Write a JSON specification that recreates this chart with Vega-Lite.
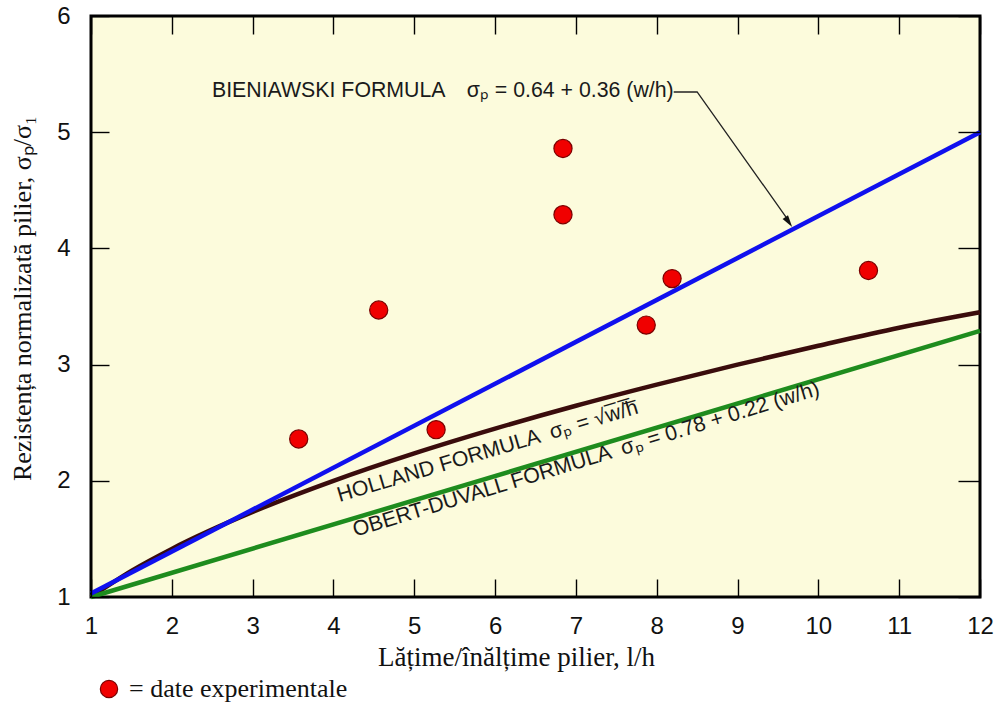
{
  "$schema": "https://vega.github.io/schema/vega-lite/v6.json",
  "width": 889,
  "height": 581,
  "autosize": "none",
  "padding": {"left": 91, "top": 16, "right": 19, "bottom": 109},
  "background": "white",
  "datasets": {
    "curves": [
      {"series": "Holland", "x": 1, "y": 1.0},
      {"series": "Holland", "x": 1.5, "y": 1.225},
      {"series": "Holland", "x": 2, "y": 1.414},
      {"series": "Holland", "x": 3, "y": 1.732},
      {"series": "Holland", "x": 4, "y": 2.0},
      {"series": "Holland", "x": 5, "y": 2.236},
      {"series": "Holland", "x": 6, "y": 2.449},
      {"series": "Holland", "x": 7, "y": 2.646},
      {"series": "Holland", "x": 8, "y": 2.828},
      {"series": "Holland", "x": 9, "y": 3.0},
      {"series": "Holland", "x": 10, "y": 3.162},
      {"series": "Holland", "x": 11, "y": 3.317},
      {"series": "Holland", "x": 12, "y": 3.45},
      {"series": "Obert-Duvall", "x": 1, "y": 1.0},
      {"series": "Obert-Duvall", "x": 12, "y": 3.29},
      {"series": "Bieniawski", "x": 1, "y": 1.03},
      {"series": "Bieniawski", "x": 12, "y": 5.0}
    ],
    "experiments": [
      {"x": 3.57, "y": 2.36, "label": "= date experimentale"},
      {"x": 4.56, "y": 3.47, "label": "= date experimentale"},
      {"x": 5.27, "y": 2.44, "label": "= date experimentale"},
      {"x": 6.84, "y": 4.86, "label": "= date experimentale"},
      {"x": 6.84, "y": 4.29, "label": "= date experimentale"},
      {"x": 7.87, "y": 3.34, "label": "= date experimentale"},
      {"x": 8.19, "y": 3.74, "label": "= date experimentale"},
      {"x": 10.62, "y": 3.81, "label": "= date experimentale"}
    ],
    "leader": [
      {"order": 1, "x": 8.21, "y": 5.346},
      {"order": 2, "x": 8.5, "y": 5.346},
      {"order": 3, "x": 9.6, "y": 4.27}
    ],
    "tip": [{"x": 9.676, "y": 4.184}]
  },
  "layer": [
    {
      "data": {"name": "curves"},
      "mark": {"type": "line", "strokeWidth": 4.5, "interpolate": "monotone"},
      "encoding": {
        "x": {
          "field": "x", "type": "quantitative",
          "scale": {"domain": [1, 12], "nice": false, "zero": false},
          "axis": {
            "tickCount": 11, "format": "d",
            "title": "Lățime/înălțime pilier, l/h",
            "titleX": 425, "titleY": 86, "titleBaseline": "alphabetic", "titleAlign": "center",
            "titleFont": "Liberation Serif", "titleFontSize": 27, "titleFontWeight": "normal", "titleColor": "#111",
            "offset": -18, "tickSize": 18, "labelPadding": 17, "labelFlush": false, "zindex": 1
          }
        },
        "y": {
          "field": "y", "type": "quantitative",
          "scale": {"domain": [1, 6], "nice": false, "zero": false},
          "axis": {
            "tickCount": 5, "format": "d",
            "title": "Rezistența normalizată pilier, σₚ/σ₁",
            "titleX": -87, "titleY": 282, "titleAlign": "center", "titleBaseline": "middle", "titleAngle": 270,
            "titleFont": "Liberation Serif", "titleFontSize": 26, "titleFontWeight": "normal", "titleColor": "#111",
            "offset": -18, "tickSize": 18, "labelPadding": 21, "labelFlush": false, "zindex": 1
          }
        },
        "color": {
          "field": "series", "type": "nominal",
          "scale": {"domain": ["Holland", "Obert-Duvall", "Bieniawski"], "range": ["#3a0c0c", "#1e8c1e", "#1010ee"]},
          "legend": null
        },
        "order": {"field": "x", "type": "quantitative"}
      }
    },
    {
      "data": {"name": "leader"},
      "mark": {"type": "line", "strokeWidth": 1.3, "color": "#222"},
      "encoding": {
        "x": {"field": "x", "type": "quantitative", "axis": null},
        "y": {"field": "y", "type": "quantitative", "axis": null},
        "order": {"field": "order", "type": "quantitative"}
      }
    },
    {
      "data": {"name": "tip"},
      "mark": {"type": "point", "shape": "M0,0L-0.55,-2L0.55,-2Z", "filled": true, "color": "#111", "size": 144, "angle": 325, "opacity": 1},
      "encoding": {
        "x": {"field": "x", "type": "quantitative", "axis": null},
        "y": {"field": "y", "type": "quantitative", "axis": null}
      }
    },
    {
      "data": {"values": [{"x": 2.497, "y": 5.303, "text": "BIENIAWSKI FORMULA\u2003σₚ = 0.64 + 0.36 (w/h)"}]},
      "mark": {"type": "text", "align": "left", "baseline": "alphabetic", "font": "Liberation Sans", "fontSize": 21.3, "color": "#1a1a1a"},
      "encoding": {
        "x": {"field": "x", "type": "quantitative", "axis": null},
        "y": {"field": "y", "type": "quantitative", "axis": null},
        "text": {"field": "text"}
      }
    },
    {
      "data": {"values": [{"x": 5.93, "y": 2.2, "text": "HOLLAND FORMULA\u2002σₚ = √w̅/̅h̅"}]},
      "mark": {"type": "text", "align": "center", "baseline": "alphabetic", "font": "Liberation Sans", "fontSize": 21.3, "color": "#1a1a1a", "angle": 343.5},
      "encoding": {
        "x": {"field": "x", "type": "quantitative", "axis": null},
        "y": {"field": "y", "type": "quantitative", "axis": null},
        "text": {"field": "text"}
      }
    },
    {
      "data": {"values": [{"x": 7.15, "y": 2.13, "text": "OBERT-DUVALL FORMULA\u2002σₚ = 0.78 + 0.22 (w/h)"}]},
      "mark": {"type": "text", "align": "center", "baseline": "alphabetic", "font": "Liberation Sans", "fontSize": 21.3, "color": "#1a1a1a", "angle": 343},
      "encoding": {
        "x": {"field": "x", "type": "quantitative", "axis": null},
        "y": {"field": "y", "type": "quantitative", "axis": null},
        "text": {"field": "text"}
      }
    },
    {
      "data": {"name": "experiments"},
      "mark": {"type": "point", "filled": true, "size": 330, "stroke": "#7a0000", "strokeWidth": 1.2, "opacity": 1},
      "encoding": {
        "x": {"field": "x", "type": "quantitative", "axis": {"orient": "top", "tickCount": 11, "labels": false, "title": null, "offset": -18, "tickSize": 18, "zindex": 1}},
        "y": {"field": "y", "type": "quantitative", "axis": {"orient": "right", "tickCount": 5, "labels": false, "title": null, "offset": -22, "tickSize": 22, "zindex": 1}},
        "fill": {
          "field": "label", "type": "nominal",
          "scale": {"domain": ["= date experimentale"], "range": ["#f00000"]},
          "legend": {
            "orient": "none", "legendX": 5, "legendY": 660, "title": null, "padding": 0,
            "labelFont": "Liberation Serif", "labelFontSize": 26, "labelColor": "#111", "labelOffset": 7, "labelLimit": 500,
            "symbolSize": 300, "symbolType": "circle", "symbolStrokeColor": "#7a0000", "symbolStrokeWidth": 1.2, "symbolFillColor": "#f00000", "symbolOpacity": 1
          }
        }
      }
    }
  ],
  "resolve": {"axis": {"x": "independent", "y": "independent"}},
  "config": {
    "view": {"stroke": "black", "strokeWidth": 3, "fill": "#fcfbdc"},
    "axis": {
      "domain": false,
      "grid": false,
      "ticks": true,
      "tickWidth": 1.4,
      "tickColor": "#000000",
      "tickOpacity": 1,
      "labelFont": "Liberation Sans",
      "labelFontSize": 24,
      "labelColor": "#111"
    }
  }
}
